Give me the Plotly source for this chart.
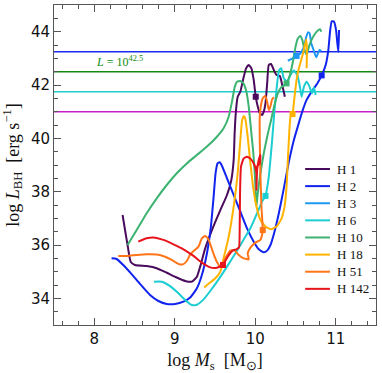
import plotly.graph_objects as go

# ---------------- data ----------------
halo_names = ["H 1", "H 2", "H 3", "H 6", "H 10", "H 18", "H 51", "H 142"]
halo_colors = ["#4a0b5c", "#1024ee", "#1e98f2", "#1ccdd2", "#3cb371", "#ffb300", "#ff7518", "#e8141c"]

h1_x = [8.352, 8.389, 8.414, 8.452, 8.506, 8.651, 8.776, 8.9, 9.025, 9.129, 9.212, 9.275, 9.316, 9.378,
        9.462, 9.566, 9.649, 9.703, 9.732, 9.744, 9.761, 9.782, 9.815, 9.848, 9.886, 9.919, 9.952, 9.981,
        10.006, 10.031, 10.056, 10.085, 10.106, 10.127, 10.148, 10.168, 10.197, 10.231, 10.264, 10.306,
        10.335, 10.368]
h1_y = [37.125, 36.44, 36.0, 35.375, 35.25, 35.21, 35.13, 34.96, 34.78, 34.65, 34.625, 34.81, 35.19, 35.875,
        36.56, 37.31, 37.875, 38.44, 39.19, 40.19, 41.06, 41.56, 41.75, 42.19, 42.625, 42.75, 42.625, 42.19,
        41.56, 41.19, 40.94, 40.875, 41.0, 41.31, 42.06, 42.75, 42.79, 42.56, 42.375, 42.34,
        42.0, 41.56]

h2_x = [8.215, 8.277, 8.36, 8.464, 8.568, 8.693, 8.797, 8.901, 9.005, 9.108, 9.192, 9.275, 9.337, 9.4,
        9.449, 9.483, 9.507, 9.532, 9.557, 9.586, 9.649, 9.732, 9.815, 9.898, 9.981, 10.044, 10.106, 10.148,
        10.189, 10.239, 10.293, 10.355, 10.418, 10.48, 10.534, 10.584, 10.638, 10.709, 10.771, 10.825,
        10.875, 10.908, 10.929, 10.95, 10.979, 11.004, 11.02, 11.033, 11.041]
h2_y = [35.5, 35.475, 35.25, 34.91, 34.54, 34.125, 33.9, 33.79, 33.79, 33.875, 34.03, 34.375, 34.875, 35.69,
        36.69, 37.81, 38.69, 39.06, 39.1, 38.975, 38.5, 37.875, 37.25, 36.625, 36.125, 35.84, 35.725, 35.79,
        36.0, 36.5, 37.19, 38.125, 39.125, 39.94, 40.5, 41.0, 41.44, 41.79, 42.06, 42.36,
        42.75, 43.31, 44.0, 44.39, 44.375, 44.06, 43.56, 43.25, 44.06]

h3_x = [10.405, 10.459, 10.513, 10.563, 10.605, 10.634, 10.655, 10.675, 10.696, 10.717, 10.738, 10.758,
        10.779, 10.796, 10.821]
h3_y = [42.91, 42.99, 43.09, 43.19, 43.44, 43.81, 43.975, 43.94, 43.56, 43.375, 43.19, 43.04,
        43.19, 43.31, 43.275]

h6_x = [8.743, 8.838, 8.942, 9.046, 9.129, 9.212, 9.275, 9.358, 9.441, 9.545, 9.649, 9.753, 9.857, 9.94,
        10.023, 10.085, 10.127, 10.168, 10.21, 10.239, 10.272, 10.297, 10.322, 10.355, 10.397, 10.438,
        10.48, 10.522, 10.555, 10.576, 10.605, 10.638, 10.671, 10.704, 10.729, 10.75]
h6_y = [34.625, 34.625, 34.46, 34.19, 33.94, 33.75, 33.76, 33.96, 34.275, 34.71, 35.19, 35.69, 36.21, 36.625,
        37.19, 37.625, 37.84, 38.56, 39.94, 41.06, 42.06, 42.56, 42.625, 42.25, 42.125, 42.375,
        42.54, 42.375, 41.94, 41.56, 41.94, 42.125, 41.96, 41.69, 41.91, 41.625]

h10_x = [8.414, 8.527, 8.651, 8.776, 8.901, 9.025, 9.15, 9.275, 9.4, 9.524, 9.607, 9.67, 9.711, 9.744,
         9.773, 9.815, 9.857, 9.89, 9.919, 9.948, 9.973, 9.994, 10.006, 10.015, 10.031, 10.064, 10.106,
         10.148, 10.197, 10.239, 10.281, 10.322, 10.389, 10.43, 10.472, 10.501, 10.53, 10.559, 10.584,
         10.613, 10.638, 10.667, 10.709, 10.763, 10.804, 10.821]
h10_y = [36.0, 36.56, 37.19, 37.75, 38.25, 38.69, 39.06, 39.375, 39.69, 40.06, 40.375, 40.81, 41.375, 41.91,
         42.125, 42.15, 42.04, 41.75, 41.19, 40.31, 39.56, 38.69, 37.94, 37.44, 37.94, 38.69, 39.44,
         40.06, 40.69, 41.25, 41.69, 41.91, 42.06, 42.375, 42.94, 43.44, 43.75, 43.84, 43.69,
         43.31, 43.125, 43.44, 43.75, 44.0, 44.09, 44.0]

h18_x = [9.366, 9.441, 9.516, 9.566, 9.607, 9.67, 9.732, 9.782, 9.815, 9.836, 9.857, 9.877, 9.906, 9.94,
         9.973, 10.015, 10.064, 10.127, 10.197, 10.264, 10.322, 10.364, 10.389, 10.405, 10.422, 10.438,
         10.463, 10.488, 10.513, 10.542, 10.571, 10.596, 10.617, 10.634, 10.642, 10.638]
h18_y = [34.41, 34.59, 34.79, 35.0, 35.5, 36.31, 37.44, 38.69, 39.94, 40.66, 40.84, 40.725, 40.06, 39.06,
         38.19, 37.44, 36.94, 36.69, 36.59, 36.69, 36.96, 37.44, 38.19, 39.19, 40.19, 40.81,
         40.91, 41.56, 42.19, 42.625, 42.94, 43.21, 43.5, 43.71, 43.31, 42.625]

h51_x = [8.298, 8.402, 8.527, 8.651, 8.776, 8.88, 8.963, 9.046, 9.1, 9.15, 9.192, 9.241, 9.295, 9.337,
         9.379, 9.42, 9.462, 9.516, 9.566, 9.628, 9.69, 9.74, 9.794, 9.857, 9.919, 9.906, 9.94, 10.002,
         10.064, 10.085, 10.093, 10.077, 10.064, 10.056, 10.056, 10.068, 10.093, 10.123, 10.148, 10.168,
         10.189, 10.21, 10.231]
h51_y = [35.59, 35.59, 35.625, 35.65, 35.64, 35.56, 35.44, 35.29, 35.275, 35.4, 35.65, 35.79, 35.94, 36.25,
         36.34, 36.21, 35.84, 35.41, 35.19, 35.5, 35.79, 35.81, 35.625, 35.5, 35.46, 35.69, 35.9, 36.09,
         36.19, 36.375, 36.56, 37.44, 38.69, 39.94, 40.81, 41.19, 41.5, 41.59, 41.375, 41.06,
         41.21, 41.46, 41.54]

h142_x = [8.547, 8.651, 8.755, 8.859, 8.984, 9.108, 9.233, 9.337, 9.441, 9.524, 9.599, 9.657, 9.719, 9.765,
          9.798, 9.807, 9.811, 9.823, 9.857, 9.898, 9.948, 9.99, 10.015, 10.015, 10.023, 10.044, 10.064,
          10.056, 10.002]
h142_y = [36.125, 36.25, 36.275, 36.19, 36.025, 35.84, 35.59, 35.34, 35.16, 35.15, 35.25, 35.56, 35.79, 35.84,
          35.91, 36.69, 37.94, 38.94, 39.25, 39.31, 39.21, 39.0, 38.69, 38.06, 38.81, 39.21, 39.375,
          39.06, 38.875]

# square markers on each track
marker_x = [10.006, 10.825, 10.513, 10.127, 10.389, 10.463, 10.093, 9.599]
marker_y = [41.56, 42.36, 43.09, 37.84, 42.06, 40.91, 36.56, 35.25]

# horizontal reference luminosities
hline_values = [43.25, 42.5, 41.75, 41.0]
hline_colors = ["#1a2cf0", "#128a12", "#22cccc", "#c81ec8"]
hline_label = "<i>L</i> = 10<sup>42.5</sup>"

x_ticks = [8, 9, 10, 11]
y_ticks = [34, 36, 38, 40, 42, 44]

tracks_x = [h1_x, h2_x, h3_x, h6_x, h10_x, h18_x, h51_x, h142_x]
tracks_y = [h1_y, h2_y, h3_y, h6_y, h10_y, h18_y, h51_y, h142_y]

# ---------------- figure ----------------
fig = go.Figure()

for xs, ys, name, col in zip(tracks_x, tracks_y, halo_names, halo_colors):
    fig.add_trace(go.Scatter(x=xs, y=ys, mode="lines", name=name,
                             line=dict(color=col, width=2, shape="spline", smoothing=0.45),
                             showlegend=False, hoverinfo="skip"))

for mx, my, col in zip(marker_x, marker_y, halo_colors):
    fig.add_trace(go.Scatter(x=[mx], y=[my], mode="markers",
                             marker=dict(symbol="square", size=6, color=col),
                             showlegend=False, hoverinfo="skip"))

for v, c in zip(hline_values, hline_colors):
    fig.add_shape(type="line", xref="x domain", yref="y", x0=0, x1=1, y0=v, y1=v,
                  line=dict(color=c, width=1.5), layer="below")

fig.add_annotation(x=8.0, y=42.5, xref="x", yref="y", text=hline_label, showarrow=False,
                   xanchor="left", yanchor="bottom", yshift=1,
                   font=dict(family="Liberation Serif", size=12, color="#128a12"))

# custom legend (axis-domain coordinates inside the axes)
leg_top = 0.4875
leg_step = 0.0535
for i, (name, col) in enumerate(zip(halo_names, halo_colors)):
    yy = leg_top - i * leg_step
    fig.add_shape(type="line", xref="x domain", yref="y domain", x0=0.78, x1=0.857, y0=yy, y1=yy,
                  line=dict(color=col, width=2))
    fig.add_annotation(xref="x domain", yref="y domain", x=0.873, y=yy, text=name, showarrow=False,
                       xanchor="left", yanchor="middle",
                       font=dict(family="Liberation Serif", size=13, color="#111111"))

axis_common = dict(
    showgrid=False, zeroline=False, showline=True, linecolor="#555555", linewidth=1,
    mirror="allticks", ticks="inside", ticklen=7, tickwidth=1, tickcolor="#555555",
    tickfont=dict(family="DejaVu Sans", size=15, color="#111111"), automargin=False,
)

fig.update_xaxes(range=[7.5, 11.5], tickvals=x_ticks,
                 minor=dict(ticks="inside", ticklen=4, dtick=0.2, tickcolor="#555555", showgrid=False),
                 title=dict(text="log <i>M</i><sub>s</sub>  [M<sub>⊙</sub>]",
                            font=dict(family="Liberation Serif", size=18, color="#111111")),
                 **axis_common)
fig.update_yaxes(range=[33, 45], tickvals=y_ticks,
                 minor=dict(ticks="inside", ticklen=4, dtick=0.5, tickcolor="#555555", showgrid=False),
                 title=dict(text="log <i>L</i><sub>BH</sub>  [erg s<sup>−1</sup>]",
                            font=dict(family="Liberation Serif", size=18, color="#111111")),
                 **axis_common)

fig.update_layout(width=382, height=373, margin=dict(l=54, r=6, t=5, b=48, autoexpand=False),
                  paper_bgcolor="white", plot_bgcolor="white", showlegend=False)

fig.write_html("out.html", config={"displayModeBar": False},
               post_script="document.body.style.margin='0px';document.body.style.padding='0px';")
